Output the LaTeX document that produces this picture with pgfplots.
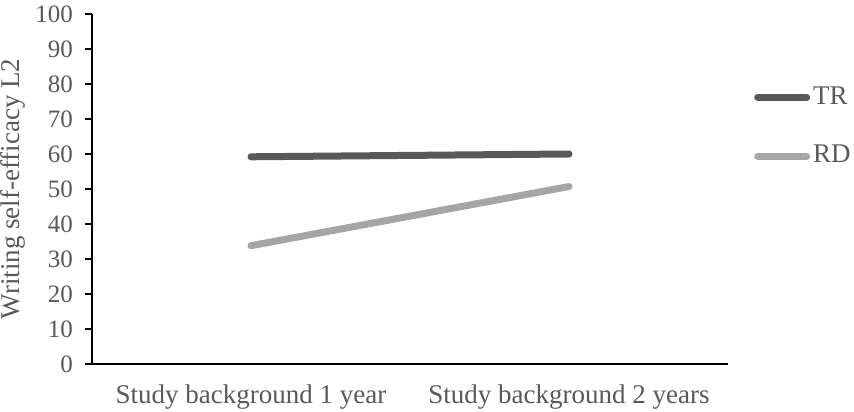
\documentclass[border=0pt]{standalone}
\usepackage{pgfplots}
\pgfplotsset{compat=1.18}
\usepackage{fontspec}
\setmainfont{Liberation Serif}
\definecolor{trc}{HTML}{595959}
\definecolor{rdc}{HTML}{A5A5A5}
\definecolor{txt}{HTML}{595959}
\begin{document}
\fontsize{27}{31}\selectfont
\begin{tikzpicture}
\useasboundingbox (-92pt,-48pt) rectangle (762pt,364pt);
\begin{axis}[
  at={(0pt,0pt)}, anchor=south west,
  scale only axis, width=636pt, height=350pt,
  xmin=-0.5, xmax=1.5, ymin=0, ymax=100,
  axis lines=left,
  axis line style={-, line width=2pt, black},
  ytick={0,10,...,100},
  xtick={0,1},
  xticklabels={Study background 1 year, Study background 2 years},
  /pgf/number format/assume math mode=true,
  tick align=outside,
  major tick length=7pt,
  ytick style={line width=2pt, black},
  xtick style={draw=none},
  tick label style={font=\fontsize{27}{31}\selectfont, text=txt},
  yticklabel style={anchor=east, inner sep=0pt, xshift=-12pt, font=\fontsize{25}{29}\selectfont},
  xticklabel style={anchor=base, inner sep=0pt, yshift=-32pt},
  ylabel={Writing self-efficacy L2},
  ylabel style={at={(axis description cs:-0.1132,0.5)}, anchor=base, font=\fontsize{27}{31}\selectfont, text=txt},
  legend style={at={(axis description cs:1.0409,0.678)}, anchor=west, draw=none, fill=none,
    font=\fontsize{27}{31}\selectfont, text=txt, inner sep=0pt, row sep=37pt,
    nodes={inner sep=0pt}},
  legend cell align=left,
  legend image code/.code={\draw[#1] (3.5pt,0pt) -- (52.5pt,0pt);},
  clip=false,
]
\addplot[trc, line width=7pt, line cap=round] coordinates {(0,59.2) (1,60.0)};
\addlegendentry{\hspace{3pt}TR}
\addplot[rdc, line width=7pt, line cap=round] coordinates {(0,33.8) (1,50.7)};
\addlegendentry{\hspace{3pt}RD}
\end{axis}
\end{tikzpicture}
\end{document}
